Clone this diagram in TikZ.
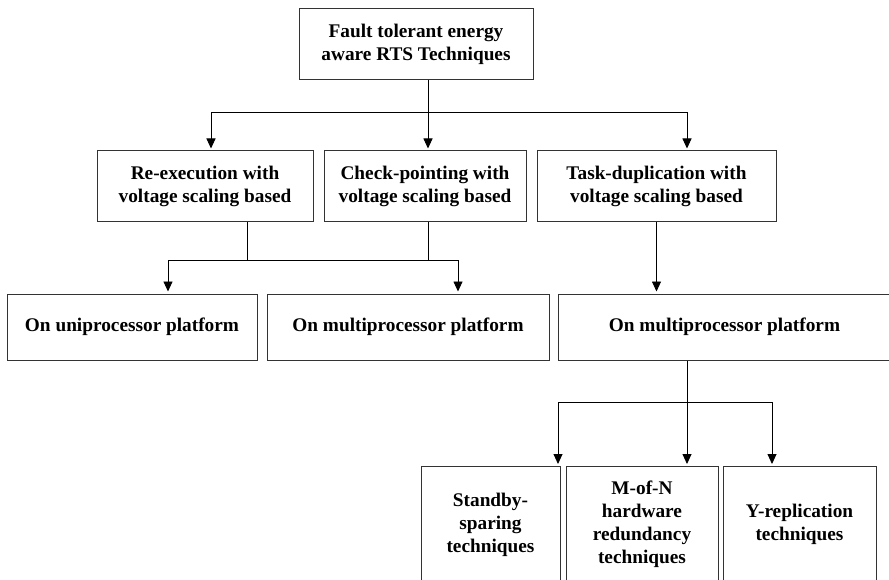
\documentclass[tikz,border=0pt]{standalone}
\usepackage{fontspec}
\setmainfont{Liberation Serif}
\usetikzlibrary{arrows.meta}

\begin{document}
\begin{tikzpicture}[x=1pt,y=-1pt,
  box/.style={draw=black!80,line width=1pt,align=center,inner sep=2pt,
    font=\fontsize{19.3}{23}\selectfont\bfseries},
  link/.style={line width=.9pt},
  arr/.style={link,shorten >=2pt,-{Triangle[length=10pt,width=9pt]}}]
  \useasboundingbox (0,0) rectangle (889,580);
  \clip (0,0) rectangle (889,580);
  % boxes
  \node[box,minimum width=234pt,minimum height=71pt] (top) at (416,44.5) {Fault tolerant energy\\aware RTS Techniques};
  \node[box,minimum width=216pt,minimum height=71pt] (reex) at (205,186.5) {Re-execution with\\voltage scaling based};
  \node[box,minimum width=202pt,minimum height=71pt] (chkp) at (425,186.5) {Check-pointing with\\voltage scaling based};
  \node[box,minimum width=239pt,minimum height=71pt] (tdup) at (656.5,186.5) {Task-duplication with\\voltage scaling based};
  \node[box,minimum width=250pt,minimum height=66pt] (uni) at (132,327) {On uniprocessor platform};
  \node[box,minimum width=282pt,minimum height=66pt] (mpa) at (408,327) {On multiprocessor platform};
  \node[box,minimum width=333pt,minimum height=66pt] (mpb) at (724.5,327) {On multiprocessor platform};
  \node[box,anchor=north,minimum width=139pt,minimum height=116pt] (sby) at (490.5,466) {Standby-\\sparing\\techniques};
  \node[box,anchor=north,minimum width=152pt,minimum height=116pt] (mofn) at (642,466) {M-of-N\\hardware\\redundancy\\techniques};
  \node[box,anchor=north,minimum width=153pt,minimum height=116pt] (yrep) at (799.5,466) {Y-replication\\techniques};
  % forks
  \coordinate (j1) at (428,112);
  \coordinate (j2) at (247,260);
  \coordinate (j3) at (428,260);
  \coordinate (j4) at (687,402);
  \draw[link] (top.south -| j1) -- (j1);
  \foreach \n/\dx in {reex/6,chkp/3,tdup/30.5}
    \draw[arr] (j1) -| ([xshift=\dx pt]\n.north);
  \draw[link] (reex.south -| j2) -- (j2) -- (j3) -- (chkp.south -| j3);
  \draw[arr] (j2) -| ([xshift=36pt]uni.north);
  \draw[arr] (j3) -| ([xshift=50pt]mpa.north);
  \draw[arr] (tdup.south) -- (tdup.south |- mpb.north);
  \draw[arr] (mpb.south -| j4) -- (j4 |- mofn.north);
  \draw[arr] (j4) -| ([xshift=67.5pt]sby.north);
  \draw[arr] (j4) -| ([xshift=-27.5pt]yrep.north);
\end{tikzpicture}
\end{document}
